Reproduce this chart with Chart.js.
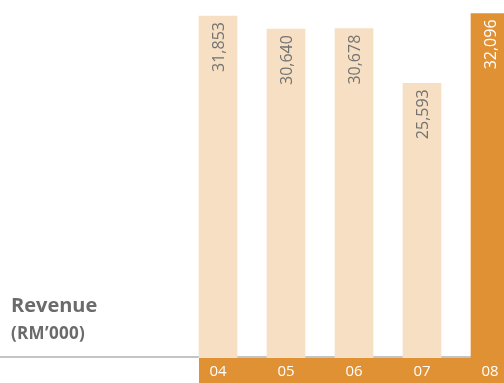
<!DOCTYPE html>
<html>
<head>
<meta charset="utf-8">
<script src="https://cdn.jsdelivr.net/npm/chart.js@4/dist/chart.umd.min.js"></script>
<style>
html,body{margin:0;padding:0;width:504px;height:383px;overflow:hidden;background:#fff;}
#wrap{position:absolute;left:0;top:0;width:524px;height:383px;}
.t1{position:absolute;left:11px;top:291px;font:bold 20px "Open Sans",sans-serif;color:#6b6b6b;}
.t2{position:absolute;left:11px;top:321px;font:bold 17px "Open Sans",sans-serif;color:#6b6b6b;letter-spacing:0.3px;}
</style>
</head>
<body>
<div id="wrap"><canvas id="c" width="524" height="383"></canvas></div>
<div class="t1">Revenue</div>
<div class="t2">(RM’000)</div>
<script>
const categories = ["04", "05", "06", "07", "08"];
const revenue = [31853, 30640, 30678, 25593, 32096];
const valueLabels = ["31,853", "30,640", "30,678", "25,593", "32,096"];

const LIGHT = "#F6DFC2";
const ORANGE = "#E09134";

const backgroundPlugin = {
  id: "bg",
  beforeDraw(chart) {
    const ctx = chart.ctx;
    const area = chart.chartArea;
    const meta = chart.getDatasetMeta(0);
    const first = meta.data[0];
    if (!first) return;
    const left = first.x - first.width / 2;
    ctx.save();
    ctx.fillStyle = "#C4C4C4";
    ctx.fillRect(0, area.bottom - 2, chart.width, 2);
    ctx.fillStyle = ORANGE;
    ctx.fillRect(left, area.bottom, chart.width - left, chart.height - area.bottom);
    ctx.restore();
  }
};

const labelPlugin = {
  id: "vlabels",
  afterDatasetsDraw(chart) {
    const ctx = chart.ctx;
    const meta = chart.getDatasetMeta(0);
    meta.data.forEach((bar, i) => {
      ctx.save();
      ctx.translate(bar.x + 1, bar.y + 6);
      ctx.rotate(-Math.PI / 2);
      ctx.font = '16px "Open Sans", sans-serif';
      ctx.fillStyle = i === revenue.length - 1 ? "#FFFFFF" : "#727272";
      ctx.textAlign = "right";
      ctx.textBaseline = "middle";
      ctx.fillText(valueLabels[i], 0, 0);
      ctx.restore();
    });
  }
};

new Chart(document.getElementById("c"), {
  type: "bar",
  data: {
    labels: categories,
    datasets: [{
      data: revenue,
      backgroundColor: revenue.map((v, i) => i === revenue.length - 1 ? ORANGE : LIGHT),
      borderWidth: 0,
      barThickness: 38
    }]
  },
  options: {
    responsive: false,
    animation: false,
    layout: { padding: { left: 184, right: 0, top: 0, bottom: 0 } },
    plugins: { legend: { display: false }, tooltip: { enabled: false } },
    scales: {
      y: { display: false, min: 0, max: 33350 },
      x: {
        grid: { display: false, drawTicks: false },
        border: { display: false },
        ticks: { color: "#FFFFFF", font: { family: "Open Sans", size: 15 }, padding: 5 },
        afterFit(scale) { scale.height = 25; }
      }
    }
  },
  plugins: [backgroundPlugin, labelPlugin]
});
</script>
</body>
</html>
